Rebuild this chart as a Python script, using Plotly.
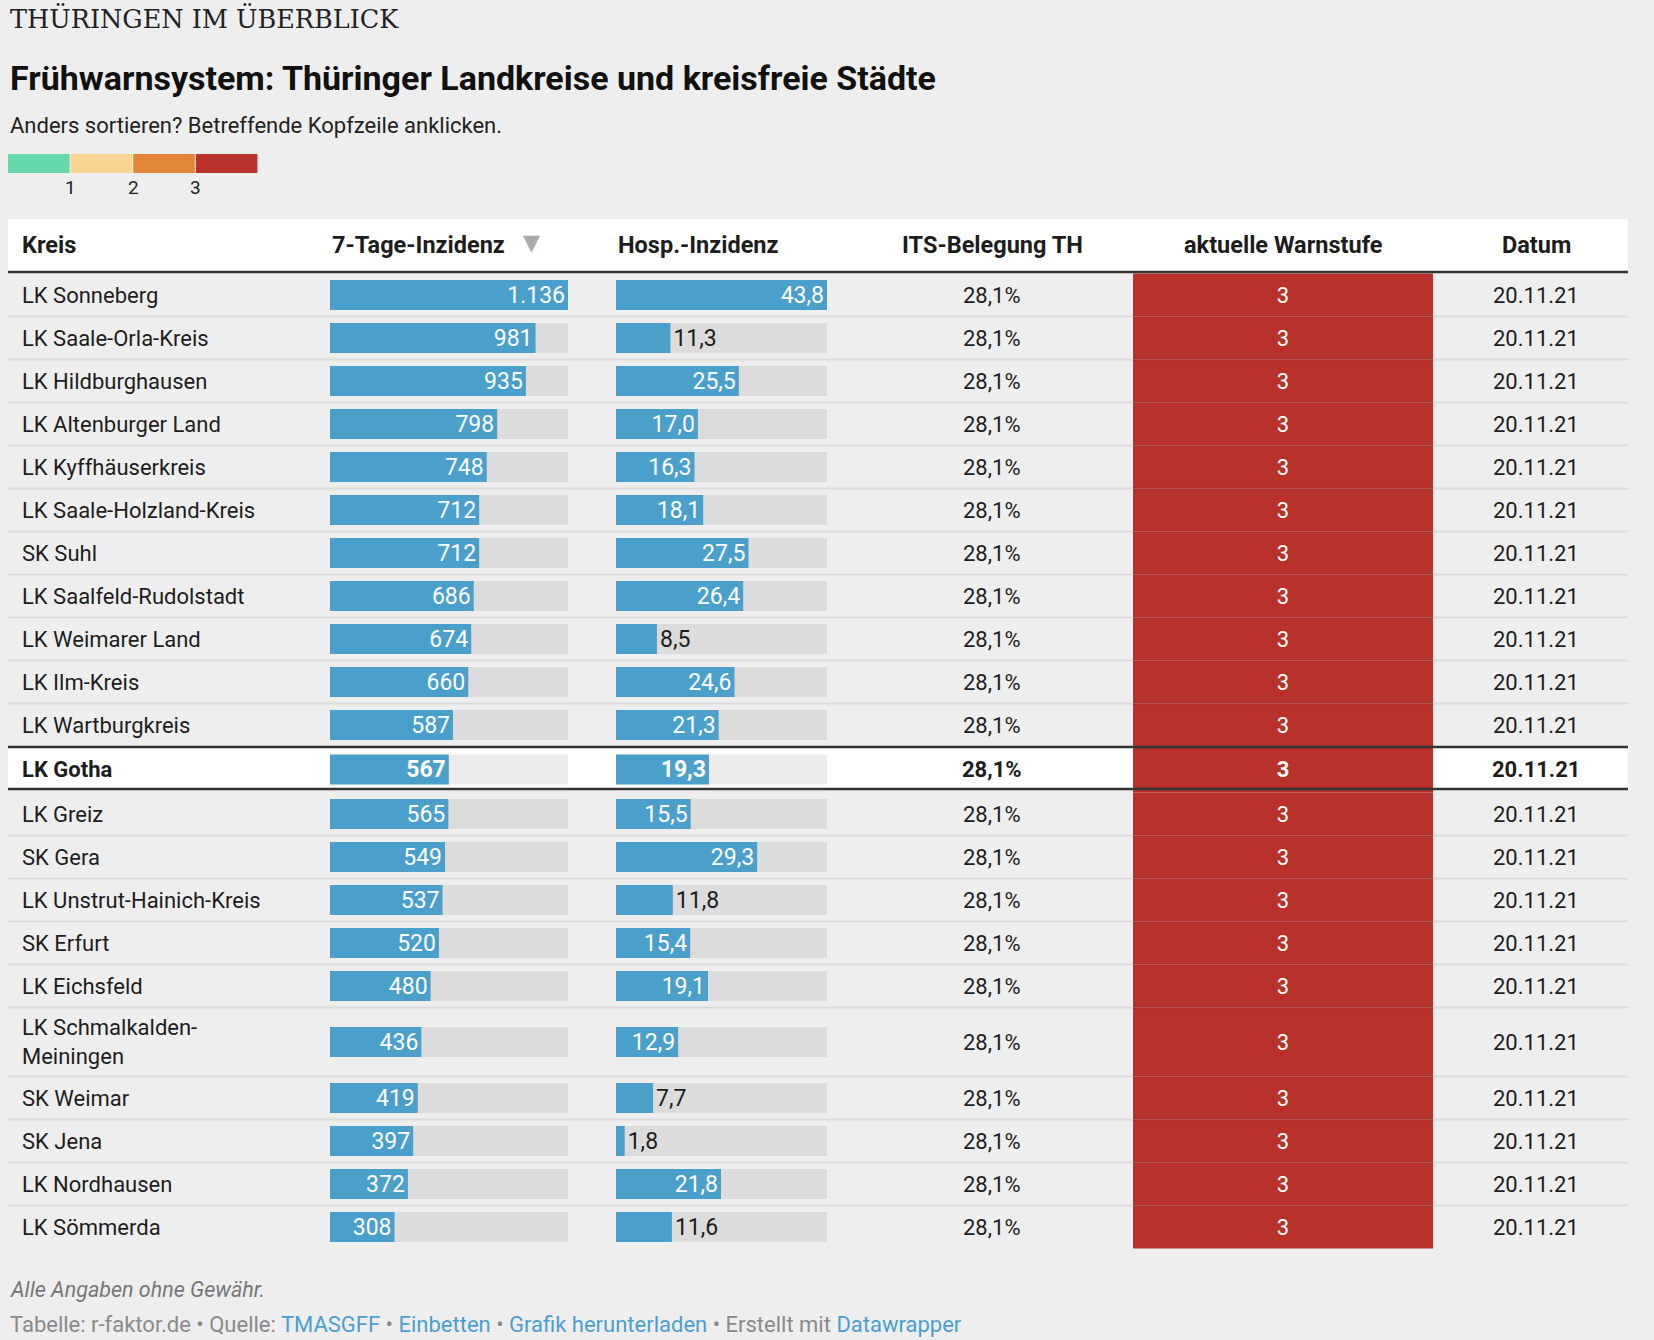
import plotly.graph_objects as go

kreise = ["LK Sonneberg", "LK Saale-Orla-Kreis", "LK Hildburghausen", "LK Altenburger Land",
          "LK Kyffhäuserkreis", "LK Saale-Holzland-Kreis", "SK Suhl", "LK Saalfeld-Rudolstadt",
          "LK Weimarer Land", "LK Ilm-Kreis", "LK Wartburgkreis", "LK Gotha", "LK Greiz",
          "SK Gera", "LK Unstrut-Hainich-Kreis", "SK Erfurt", "LK Eichsfeld",
          "LK Schmalkalden-Meiningen", "SK Weimar", "SK Jena", "LK Nordhausen", "LK Sömmerda"]
inzidenz = [1136, 981, 935, 798, 748, 712, 712, 686, 674, 660, 587,
            567, 565, 549, 537, 520, 480, 436, 419, 397, 372, 308]
hosp = [43.8, 11.3, 25.5, 17.0, 16.3, 18.1, 27.5, 26.4, 8.5, 24.6, 21.3,
        19.3, 15.5, 29.3, 11.8, 15.4, 19.1, 12.9, 7.7, 1.8, 21.8, 11.6]
its = [28.1, 28.1, 28.1, 28.1, 28.1, 28.1, 28.1, 28.1, 28.1, 28.1, 28.1,
       28.1, 28.1, 28.1, 28.1, 28.1, 28.1, 28.1, 28.1, 28.1, 28.1, 28.1]
warnstufe = [3, 3, 3, 3, 3, 3, 3, 3, 3, 3, 3,
             3, 3, 3, 3, 3, 3, 3, 3, 3, 3, 3]
datum = ["20.11.21", "20.11.21", "20.11.21", "20.11.21", "20.11.21", "20.11.21",
         "20.11.21", "20.11.21", "20.11.21", "20.11.21", "20.11.21", "20.11.21",
         "20.11.21", "20.11.21", "20.11.21", "20.11.21", "20.11.21", "20.11.21",
         "20.11.21", "20.11.21", "20.11.21", "20.11.21"]
spalten = ["Kreis", "7-Tage-Inzidenz", "Hosp.-Inzidenz", "ITS-Belegung TH", "aktuelle Warnstufe", "Datum"]
legende = [1, 2, 3]
hervorgehoben = "LK Gotha"

# Farben / Maße
W, H = 1654, 1340
BG = "#eeeeee"
DARK = "#1d1d1d"
BLAU = "#4ba0cb"
STUFEN_FARBEN = ["#63d9ab", "#f8d590", "#e38536", "#b8312a"]
FONT = "Roboto"
L, R = 8, 1628
ZELLE = 22   # Schriftgröße Tabellenzellen
BALKEN_SCHRIFT = 23

def px(x):
    return x / W

# Zeilen: Umbruch bei langen Namen, Höhen und Mitten
def umbruch(name):
    if len(name) > 24 and "-" in name:
        i = name.index("-") + 1
        return name[:i] + "<br>" + name[i:]
    return name

namen = [umbruch(k) for k in kreise]
hoehen = []
for k, nm in zip(kreise, namen):
    if "<br>" in nm:
        hoehen.append(69)
    elif k == hervorgehoben:
        hoehen.append(46)
    else:
        hoehen.append(43)
top = 273.5
oben, mitten = [], []
for h in hoehen:
    oben.append(top)
    mitten.append(top + h / 2)
    top += h
n = len(kreise)
hl = kreise.index(hervorgehoben)

def de_int(v):
    return f"{v:,}".replace(",", ".")

def de_dec(v):
    return f"{v:.1f}".replace(".", ",")

def positionen(werte, labels, maxv, breite):
    pos = []
    for v, t in zip(werte, labels):
        if v / maxv * breite >= len(t) * 11.5 + 12:
            pos.append("inside")
        else:
            pos.append("outside")
    return pos

def fett(labels):
    return [f"<b>{t}</b>" if i == hl else t for i, t in enumerate(labels)]

inz_text = [de_int(v) for v in inzidenz]
hosp_text = [de_dec(v) for v in hosp]
max_inz, max_hosp = max(inzidenz), max(hosp)
X1 = (330, 568)
X2 = (616, 827)
X3 = (1133, 1433)

fig = go.Figure()

# 7-Tage-Inzidenz
fig.add_trace(go.Bar(orientation="h", y=mitten, x=[max_inz] * n, width=30,
                     marker=dict(color="rgba(0,0,0,0.075)", line_width=0),
                     xaxis="x", yaxis="y", hoverinfo="skip"))
fig.add_trace(go.Bar(orientation="h", y=mitten, x=inzidenz, width=30,
                     marker=dict(color=BLAU, line_width=0),
                     text=fett(inz_text), textangle=0, constraintext="none",
                     textposition=positionen(inzidenz, inz_text, max_inz, X1[1] - X1[0]),
                     insidetextanchor="end",
                     insidetextfont=dict(color="white", size=BALKEN_SCHRIFT, family=FONT),
                     outsidetextfont=dict(color=DARK, size=BALKEN_SCHRIFT, family=FONT),
                     cliponaxis=False, xaxis="x", yaxis="y", hoverinfo="skip"))

# Hosp.-Inzidenz
fig.add_trace(go.Bar(orientation="h", y=mitten, x=[max_hosp] * n, width=30,
                     marker=dict(color="rgba(0,0,0,0.075)", line_width=0),
                     xaxis="x2", yaxis="y", hoverinfo="skip"))
fig.add_trace(go.Bar(orientation="h", y=mitten, x=hosp, width=30,
                     marker=dict(color=BLAU, line_width=0),
                     text=fett(hosp_text), textangle=0, constraintext="none",
                     textposition=positionen(hosp, hosp_text, max_hosp, X2[1] - X2[0]),
                     insidetextanchor="end",
                     insidetextfont=dict(color="white", size=BALKEN_SCHRIFT, family=FONT),
                     outsidetextfont=dict(color=DARK, size=BALKEN_SCHRIFT, family=FONT),
                     cliponaxis=False, xaxis="x2", yaxis="y", hoverinfo="skip"))

# aktuelle Warnstufe als farbige Zellen
fig.add_trace(go.Bar(orientation="h", y=mitten, x=[1] * n, width=hoehen,
                     marker=dict(color=[STUFEN_FARBEN[s] for s in warnstufe], line_width=0),
                     text=fett([str(s) for s in warnstufe]), textangle=0, constraintext="none",
                     textposition="inside", insidetextanchor="middle",
                     insidetextfont=dict(color="white", size=ZELLE, family=FONT),
                     xaxis="x3", yaxis="y", hoverinfo="skip"))

shapes = []
annotations = []

# Kopfzeile
shapes.append(dict(type="rect", xref="paper", yref="y", x0=px(L), x1=px(R), y0=219, y1=271,
                   fillcolor="white", line_width=0, layer="below"))
shapes.append(dict(type="line", xref="paper", yref="y", x0=px(L), x1=px(R), y0=272, y1=272,
                   line=dict(color="#333333", width=2.5)))
kopf_x = [(20, "left"), (X1[0], "left"), (X2[0], "left"), (992, "center"), (1283, "center"), (1536, "center")]
for (x, anchor), t in zip(kopf_x, spalten):
    annotations.append(dict(x=px(x), y=245, xref="paper", yref="y", text=t, showarrow=False,
                            xanchor=anchor, yanchor="middle",
                            font=dict(family=FONT, size=23.5, color=DARK, weight="bold")))
annotations.append(dict(x=px(531), y=242, xref="paper", yref="y", text="▼", showarrow=False,
                        xanchor="center", yanchor="middle",
                        font=dict(family="DejaVu Sans", size=22, color="#aaaaaa")))

# hervorgehobene Zeile
shapes.append(dict(type="rect", xref="paper", yref="y", x0=px(L), x1=px(R),
                   y0=oben[hl] + 1, y1=oben[hl] + hoehen[hl] - 3,
                   fillcolor="white", line_width=0, layer="below"))
for y in (oben[hl] + 0.5, oben[hl] + hoehen[hl] - 3.5):
    shapes.append(dict(type="line", xref="paper", yref="y", x0=px(L), x1=px(R), y0=y, y1=y,
                       line=dict(color="#333333", width=2.5)))

# Trennlinien
for i in range(1, n):
    if i == hl or i == hl + 1:
        continue
    shapes.append(dict(type="line", xref="paper", yref="y", x0=px(L), x1=px(R),
                       y0=oben[i], y1=oben[i], line=dict(color="rgba(0,0,0,0.075)", width=2)))

# Zelltexte
for i in range(n):
    b = "bold" if i == hl else "normal"
    annotations.append(dict(x=px(20), y=mitten[i], xref="paper", yref="y", text=namen[i],
                            showarrow=False, xanchor="left", yanchor="middle", align="left",
                            font=dict(family=FONT, size=ZELLE, color=DARK, weight=b)))
    annotations.append(dict(x=px(992), y=mitten[i], xref="paper", yref="y",
                            text=de_dec(its[i]) + "%", showarrow=False,
                            xanchor="center", yanchor="middle",
                            font=dict(family=FONT, size=ZELLE, color=DARK, weight=b)))
    annotations.append(dict(x=px(1536), y=mitten[i], xref="paper", yref="y", text=datum[i],
                            showarrow=False, xanchor="center", yanchor="middle",
                            font=dict(family=FONT, size=ZELLE, color=DARK, weight=b)))

# Kopf: Dachzeile, Titel, Untertitel
annotations.append(dict(x=px(8), y=18, xref="paper", yref="y", text="THÜRINGEN IM ÜBERBLICK",
                        showarrow=False, xanchor="left", yanchor="middle",
                        font=dict(family="DejaVu Serif", size=25.5, color="#222222")))
annotations.append(dict(x=px(8), y=78, xref="paper", yref="y",
                        text="Frühwarnsystem: Thüringer Landkreise und kreisfreie Städte",
                        showarrow=False, xanchor="left", yanchor="middle",
                        font=dict(family=FONT, size=34, color="#111111", weight="bold")))
annotations.append(dict(x=px(8), y=125, xref="paper", yref="y",
                        text="Anders sortieren? Betreffende Kopfzeile anklicken.",
                        showarrow=False, xanchor="left", yanchor="middle",
                        font=dict(family=FONT, size=22, color="#222222")))

# Farblegende
seg = 62.6
for k, farbe in enumerate(STUFEN_FARBEN):
    shapes.append(dict(type="rect", xref="paper", yref="y", x0=px(L + k * seg), x1=px(L + (k + 1) * seg - 1),
                       y0=154, y1=173, fillcolor=farbe, line_width=0))
for k, s in enumerate(legende):
    annotations.append(dict(x=px(L + (k + 1) * seg), y=187, xref="paper", yref="y", text=str(s),
                            showarrow=False, xanchor="center", yanchor="middle",
                            font=dict(family=FONT, size=19, color="#222222")))

# Fußzeile
LINK = "#4a9fd0"
annotations.append(dict(x=px(8), y=1289, xref="paper", yref="y", text="<i>Alle Angaben ohne Gewähr.</i>",
                        showarrow=False, xanchor="left", yanchor="middle",
                        font=dict(family=FONT, size=21.5, color="#777777")))
fuss = ("Tabelle: r-faktor.de • Quelle: "
        f"<span style='color:{LINK}'>TMASGFF</span> • "
        f"<span style='color:{LINK}'>Einbetten</span> • "
        f"<span style='color:{LINK}'>Grafik herunterladen</span> • Erstellt mit "
        f"<span style='color:{LINK}'>Datawrapper</span>")
annotations.append(dict(x=px(8), y=1324, xref="paper", yref="y", text=fuss,
                        showarrow=False, xanchor="left", yanchor="middle",
                        font=dict(family=FONT, size=22, color="#8a8a8a")))

fig.update_layout(
    width=W, height=H, margin=dict(l=0, r=0, t=0, b=0),
    paper_bgcolor=BG, plot_bgcolor=BG, barmode="overlay", showlegend=False,
    font=dict(family=FONT, color=DARK),
    xaxis=dict(domain=[px(X1[0]), px(X1[1])], range=[0, max_inz], visible=False, anchor="y"),
    xaxis2=dict(domain=[px(X2[0]), px(X2[1])], range=[0, max_hosp], visible=False, anchor="y"),
    xaxis3=dict(domain=[px(X3[0]), px(X3[1])], range=[0, 1], visible=False, anchor="y"),
    yaxis=dict(domain=[0, 1], range=[H, 0], visible=False),
    shapes=shapes, annotations=annotations,
)

fig.write_html("out.html", config={"displayModeBar": False},
               post_script="document.body.style.margin='0';")
